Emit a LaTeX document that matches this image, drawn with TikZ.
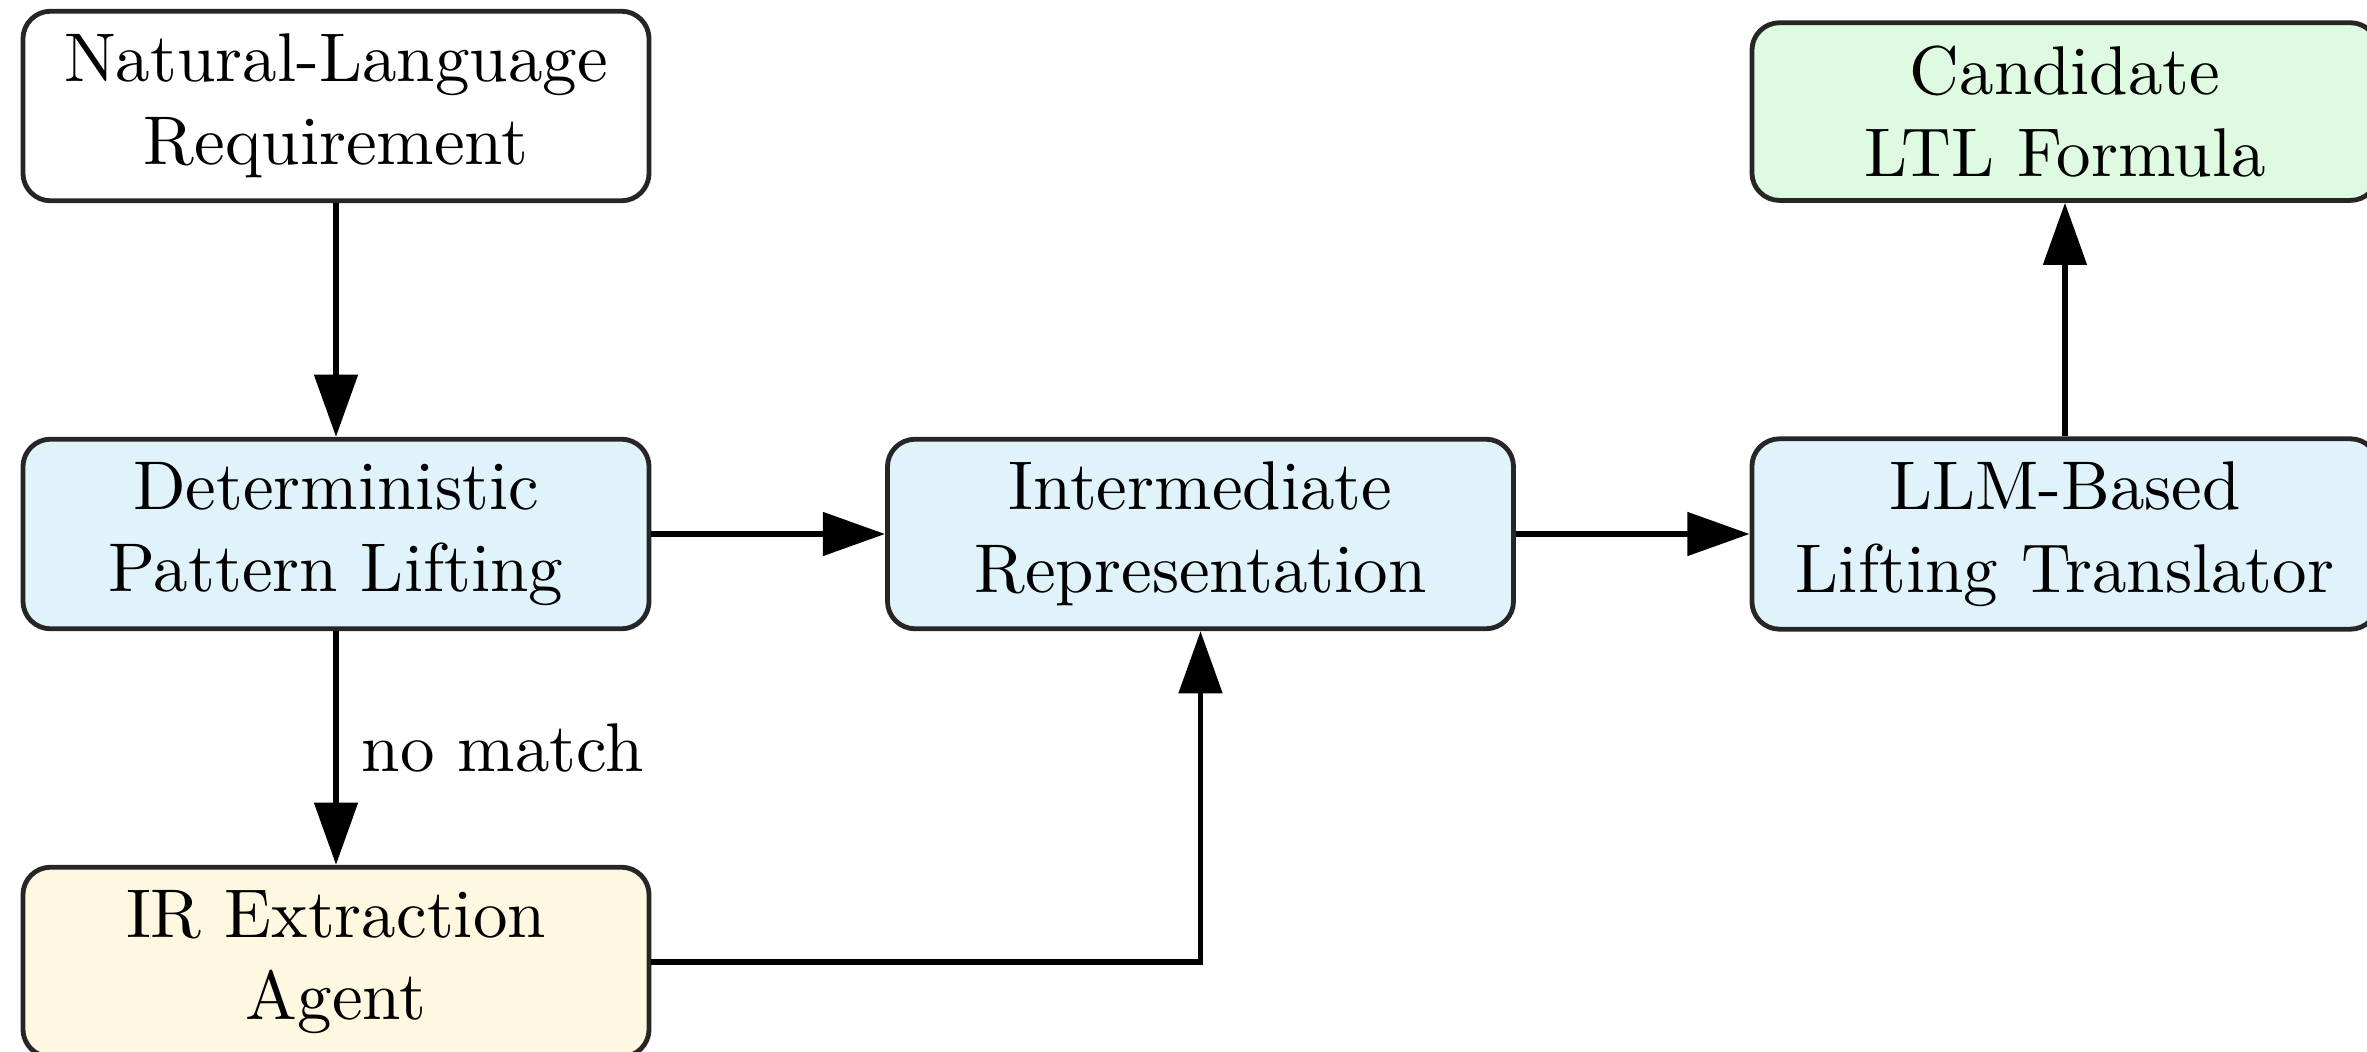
\documentclass[tikz,border=0pt]{standalone}
\usetikzlibrary{positioning,arrows.meta}
\definecolor{procblue}{RGB}{224,243,250}
\definecolor{agentyellow}{RGB}{255,248,225}
\definecolor{outgreen}{RGB}{222,250,224}

\begin{document}
\begin{tikzpicture}[>={Triangle[length=9pt,width=6.2pt]},
  node distance=1.19cm,
  box/.style={draw=black!85, line width=0.7pt, rounded corners=4pt, align=center,
    minimum width=3.19cm, inner sep=3.3pt},
  flow/.style={->, line width=0.8pt}]
  % fixed frame, same proportions as the original figure
  \useasboundingbox (-1.712,0.540) rectangle (10.348,-4.815);
  \node[box, fill=white] (req) at (0,0) {Natural-Language\\Requirement};
  \node[box, fill=procblue, below=of req] (lift) {Deterministic\\Pattern Lifting};
  \node[box, fill=agentyellow, below=of lift] (agent) {IR Extraction\\Agent};
  \node[box, fill=procblue, right=of lift] (ir) {Intermediate\\Representation};
  \node[box, fill=procblue, right=of ir] (llm) {LLM-Based\\Lifting Translator};
  \node[box, fill=outgreen, above=of llm] (ltl) {Candidate\\LTL Formula};
  % connectors
  \draw[flow] (req) -- (lift);
  \draw[flow] (lift) -- node[right] {no match} (agent);
  \draw[flow] (lift) -- (ir);
  \draw[flow] (agent.east) -| (ir.south);
  \draw[flow] (ir) -- (llm);
  \draw[flow] (llm) -- (ltl);
\end{tikzpicture}
\end{document}
